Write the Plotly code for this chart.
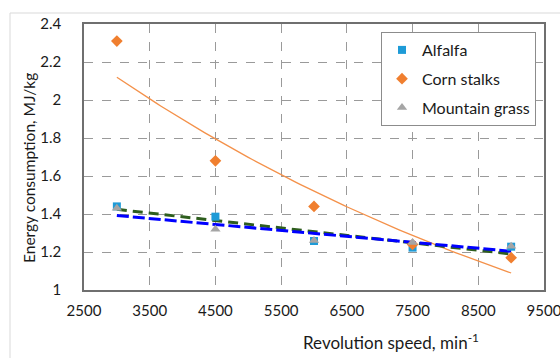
import numpy as np
import plotly.graph_objects as go

speed = [3000, 4500, 6000, 7500, 9000]
alfalfa = [1.44, 1.386, 1.258, 1.223, 1.228]
corn_stalks = [2.31, 1.68, 1.44, 1.24, 1.17]
mountain_grass = [1.43, 1.32, 1.26, 1.25, 1.23]

x_ticks = [2500, 3500, 4500, 5500, 6500, 7500, 8500, 9500]
y_ticks = [1, 1.2, 1.4, 1.6, 1.8, 2, 2.2, 2.4]

FONT = "Lato, 'Liberation Sans', sans-serif"
W, H = 560, 358
L, R, T, B = 84, 16, 24, 68
PW, PH = W - L - R, H - T - B

def px(x):
    return (x - L) / PW

def py(y):
    return (H - B - y) / PH

xs = np.array(speed, dtype=float)
xd = np.linspace(xs.min(), xs.max(), 100)

# trend lines fitted from the data
a_lin = np.polyfit(xs, np.array(alfalfa), 1)
m_lin = np.polyfit(xs, np.array(mountain_grass), 1)
c_exp = np.polyfit(xs, np.log(np.array(corn_stalks)), 1)

fig = go.Figure()

fig.add_trace(go.Scatter(x=xd, y=np.exp(np.polyval(c_exp, xd)), mode="lines",
                         line=dict(color="#F4914A", width=1.3), showlegend=False, hoverinfo="skip"))
fig.add_trace(go.Scatter(x=xd, y=np.polyval(a_lin, xd), mode="lines",
                         line=dict(color="#2E5E1E", width=3, dash="10px,6px"), showlegend=False, hoverinfo="skip"))
fig.add_trace(go.Scatter(x=xd, y=np.polyval(m_lin, xd), mode="lines",
                         line=dict(color="#0000FF", width=3, dash="12px,4px"), showlegend=False, hoverinfo="skip"))

fig.add_trace(go.Scatter(x=speed, y=alfalfa, mode="markers", name="Alfalfa", legendgroup="a",
                         marker=dict(symbol="square", size=8, color="#1E9BD7")))
fig.add_trace(go.Scatter(x=speed, y=corn_stalks, mode="markers", name="Corn stalks", legendgroup="c",
                         marker=dict(symbol="diamond", size=9, color="#F07F2F")))
fig.add_trace(go.Scatter(x=speed, y=mountain_grass, mode="markers", name="Mountain grass", legendgroup="m",
                         marker=dict(symbol="triangle-up", size=9, color="#A5A5A5")))

axis_common = dict(
    showgrid=True, gridcolor="#9a9a9a", gridwidth=1, griddash="dash",
    showline=True, linecolor="#6f6f6f", linewidth=1.5, mirror=True,
    ticks="", zeroline=False, automargin=False, ticklabeloverflow="allow",
    tickfont=dict(family=FONT, size=15, color="#1a1a1a"),
)

fig.update_layout(
    width=W, height=H,
    margin=dict(l=L, r=R, t=T, b=B, autoexpand=False),
    paper_bgcolor="white", plot_bgcolor="white",
    font=dict(family=FONT, size=14, color="#1a1a1a"),
    xaxis=dict(range=[2500, 9500], tickvals=x_ticks, ticktext=[str(v) for v in x_ticks],
               ticklabelstandoff=6, **axis_common),
    yaxis=dict(range=[1, 2.4], tickvals=y_ticks, ticktext=[f"{v:g}" for v in y_ticks],
               ticklabelstandoff=18, **axis_common),
    legend=dict(x=px(536), y=py(32), xanchor="right", yanchor="top",
                bgcolor="white", bordercolor="#8c8c8c", borderwidth=1,
                font=dict(family=FONT, size=16, color="#1a1a1a"),
                itemwidth=30, traceorder="grouped", tracegroupgap=5),
    showlegend=True,
    annotations=[
        dict(text="Revolution speed, min<sup>-1</sup>", xref="paper", yref="paper",
             x=px(391), y=py(341), showarrow=False, xanchor="center", yanchor="middle",
             font=dict(family=FONT, size=17, color="#1a1a1a")),
        dict(text="Energy consumption, MJ/kg", xref="paper", yref="paper",
             x=px(29), y=py(168), showarrow=False, textangle=-90, xanchor="center", yanchor="middle",
             font=dict(family=FONT, size=15.5, color="#1a1a1a")),
    ],
    shapes=[
        dict(type="rect", xref="paper", yref="paper", x0=px(10), x1=px(575), y0=py(375), y1=py(13),
             line=dict(color="#d9d9d9", width=1), layer="below"),
    ],
)

fig.write_html("out.html", config={"displayModeBar": False},
               post_script="document.body.style.margin='0';document.body.style.overflow='hidden';")
